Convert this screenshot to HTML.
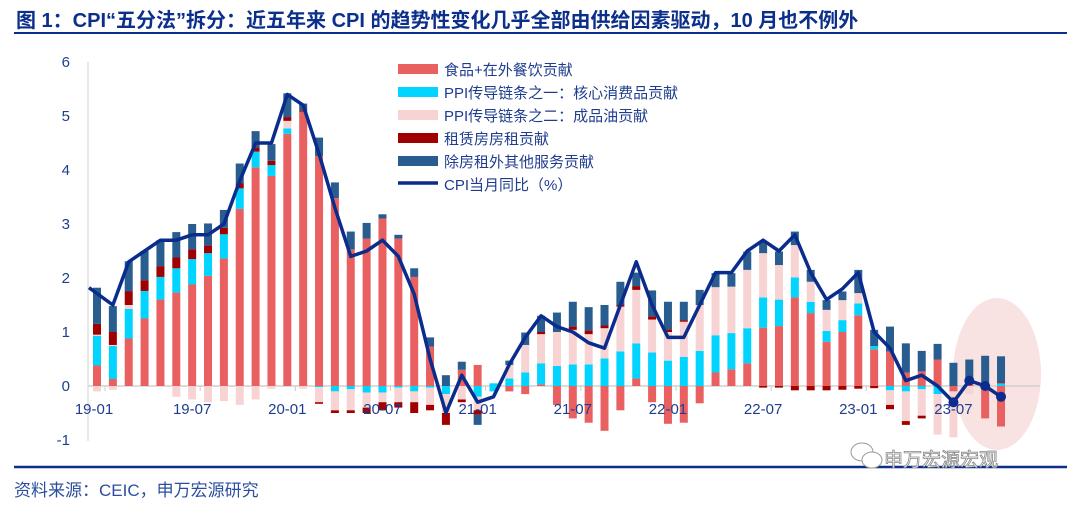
<!DOCTYPE html>
<html><head><meta charset="utf-8"><style>
body{margin:0;width:1080px;height:505px;background:#fff;overflow:hidden;font-family:"Liberation Sans","Noto Sans CJK SC",sans-serif;}
</style></head><body>
<svg id="s" width="1080" height="505" xmlns="http://www.w3.org/2000/svg" style="position:absolute;left:0;top:0">
<text x="16" y="27" font-size="20" font-weight="bold" fill="#0b2f8a" font-family="Liberation Sans,Noto Sans CJK SC,sans-serif">图 1：CPI“五分法”拆分：近五年来 CPI 的趋势性变化几乎全部由供给因素驱动，10 月也不例外</text>
<line x1="14" y1="33" x2="1067" y2="33" stroke="#0b2f8a" stroke-width="2"/>
<line x1="14" y1="467" x2="1067" y2="467" stroke="#0b2f8a" stroke-width="2.5"/>
<text x="14" y="496" font-size="17" fill="#2b4f9e" font-family="Liberation Sans,Noto Sans CJK SC,sans-serif">资料来源：CEIC，申万宏源研究</text>
<ellipse cx="997" cy="374" rx="44" ry="76" fill="#f5d6d6" opacity="0.7"/>
<line x1="88" y1="62" x2="88" y2="441" stroke="#d0d0d0" stroke-width="1"/>
<g id="g"></g>
<g font-size="15" fill="#1f3d8f" text-anchor="end" font-family="Liberation Sans,sans-serif">
<text x="70" y="67">6</text><text x="70" y="121">5</text><text x="70" y="175">4</text><text x="70" y="229">3</text><text x="70" y="283">2</text><text x="70" y="337">1</text><text x="70" y="391">0</text><text x="70" y="445">-1</text>
</g>
<g font-size="15" font-family="Liberation Sans,Noto Sans CJK SC,sans-serif" fill="#1f3d8f">
<rect x="398" y="64" width="40" height="10" fill="#e86060"/><text x="444" y="75">食品+在外餐饮贡献</text>
<rect x="398" y="87" width="40" height="10" fill="#00d4ff"/><text x="444" y="98">PPI传导链条之一：核心消费品贡献</text>
<rect x="398" y="110" width="40" height="10" fill="#f8d3d3"/><text x="444" y="121">PPI传导链条之二：成品油贡献</text>
<rect x="398" y="133" width="40" height="10" fill="#a00000"/><text x="444" y="144">租赁房房租贡献</text>
<rect x="398" y="156" width="40" height="10" fill="#2a5d8f"/><text x="444" y="167">除房租外其他服务贡献</text>
<line x1="398" y1="183" x2="438" y2="183" stroke="#0a2c8c" stroke-width="3.5"/><text x="444" y="190">CPI当月同比（%）</text>
</g>
<g font-size="19" fill="#fff" stroke="#888" stroke-width="0.8" font-family="Noto Sans CJK SC,sans-serif">
<text x="884" y="466">申万宏源宏观</text>
</g>
<g fill="#fff" stroke="#999" stroke-width="1"><ellipse cx="862" cy="452" rx="11" ry="9"/><ellipse cx="872" cy="460" rx="10" ry="8"/></g>
</svg>
<script>
var P=[[0.38,0.93,0.95,1.15,1.82],[0.13,0.74,0.76,1.0,1.48],[0.88,1.43,1.5,1.75,2.31],[1.25,1.76,1.76,1.96,2.5],[1.6,2.02,2.02,2.22,2.7],[1.73,2.18,2.18,2.38,2.85],[1.88,2.35,2.35,2.53,3.0],[2.04,2.46,2.46,2.6,3.01],[2.36,2.81,2.81,2.93,3.26],[3.28,3.66,3.66,3.75,4.12],[4.05,4.34,4.34,4.42,4.72],[3.89,4.09,4.09,4.17,4.48],
[4.67,4.77,4.91,4.98,5.42],[5.08,5.08,5.08,5.1,5.23],[4.26,4.26,4.26,4.26,4.6],[3.48,3.48,3.48,3.48,3.77],[2.53,2.53,2.53,2.53,2.86],[2.73,2.73,2.73,2.73,3.02],[3.1,3.1,3.1,3.1,3.18],[2.73,2.73,2.73,2.73,2.8],[2.02,2.02,2.02,2.02,2.18],[0.73,0.73,0.73,0.73,0.9],[0,0,0,0,0.2],[0.3,0.3,0.3,0.3,0.45],
[0.39,0.39,0.39,0.39,0.39],[0,0.05,0.05,0.05,0.05],[0,0.14,0.39,0.39,0.47],[0,0.25,0.76,0.76,0.99],[0.03,0.42,0.96,1.0,1.3],[0,0.37,1.0,1.0,1.36],[0,0.4,1.04,1.1,1.56],[0,0.4,0.96,1.03,1.46],[0,0.51,1.07,1.12,1.5],[0,0.64,1.47,1.5,1.93],[0.14,0.79,1.78,1.85,2.1],[0,0.62,1.23,1.29,1.77],
[0,0.47,1.0,1.05,1.56],[0,0.54,1.19,1.22,1.56],[0,0.65,1.5,1.5,1.78],[0.25,0.94,1.83,1.83,2.09],[0.31,0.98,1.84,1.84,2.09],[0.42,1.07,2.15,2.15,2.49],[1.08,1.64,2.46,2.46,2.67],[1.11,1.6,2.24,2.24,2.49],[1.64,2.01,2.61,2.61,2.86],[1.35,1.56,1.93,1.93,2.15],[0.82,1.02,1.41,1.41,1.59],[1.0,1.22,1.59,1.59,1.75],
[1.31,1.53,1.72,1.72,2.15],[0.68,0.74,0.74,0.74,1.04],[0.64,0.64,0.64,0.64,1.1],[0.25,0.25,0.25,0.25,0.79],[0.27,0.27,0.27,0.27,0.65],[0.49,0.49,0.49,0.49,0.78],[0,0,0,0,0.43],[0.15,0.15,0.15,0.15,0.49],[0,0,0,0,0.56],[0,0.05,0.05,0.07,0.55]];
var N=[[0,0,-0.1],[0,0,-0.07],[0],[0],[0,0,-0.02],[0,0,-0.2],[0,0,-0.25],[0,0,-0.3],[0,0,-0.28],[0,0,-0.35],[0,0,-0.25],[0,0,-0.05],
[0],[0,0,-0.05],[0,-0.02,-0.3,-0.33],[0,-0.1,-0.45,-0.5],[0,-0.06,-0.45,-0.5],[0,-0.12,-0.4,-0.5],[0,-0.12,-0.3,-0.45],[0,-0.03,-0.3,-0.4],[0,-0.1,-0.3,-0.5],[0,-0.03,-0.35,-0.45],[0,-0.15,-0.5,-0.72],[0,0,-0.25,-0.3],
[0,-0.2,-0.45,-0.53,-0.72],[0,-0.1],[-0.1],[-0.15],[0],[-0.35],[-0.6],[-0.68],[-0.83],[-0.45],[0],[-0.3],
[-0.7],[-0.68],[-0.32],[0],[0],[0],[0,0,0,-0.03],[0,0,0,-0.03],[0,0,0,-0.08],[0,0,0,-0.08],[0,0,0,-0.08],[0,0,0,-0.07],
[0,0,0,-0.05],[0,0,0,-0.04],[0,-0.08,-0.35,-0.43],[0,-0.1,-0.65,-0.72],[0,-0.06,-0.55,-0.6],[0,-0.15,-0.9,-0.9],[-0.1,-0.1,-0.95],[0,0,-0.15],[-0.6],[-0.75]];
var C=[1.7,1.5,2.3,2.5,2.7,2.7,2.8,2.8,3.0,3.8,4.5,4.5,5.4,5.2,4.3,3.3,2.4,2.5,2.7,2.4,1.7,0.5,-0.5,0.2,-0.3,-0.2,0.4,0.9,1.3,1.1,1.0,0.8,0.7,1.5,2.3,1.5,0.9,0.9,1.5,2.1,2.1,2.5,2.7,2.5,2.8,2.1,1.6,1.8,2.1,1.0,0.7,0.1,0.2,0.0,-0.3,0.1,0.0,-0.2];
var col=["#e86060","#00d4ff","#f8d3d3","#a00000","#2a5d8f"];
function X(i){return 97+15.86*i;} function Y(v){return 386-54*v;}
var h='';
h+='<line x1="88" y1="386" x2="1040" y2="386" stroke="#d0d0d0" stroke-width="1.5"/>';
for(var i=0;i<58;i++){
 if(i%6==0){h+='<line x1="'+(X(i)+8)+'" y1="386" x2="'+(X(i)+8)+'" y2="391" stroke="#ccc"/>';}
 var p=P[i],prev=0;
 for(var k=0;k<5;k++){var v=p[k];if(v>prev){h+='<rect x="'+(X(i)-4)+'" y="'+Y(v)+'" width="8" height="'+(54*(v-prev))+'" fill="'+col[k]+'"/>';prev=v;}}
 var n=N[i];prev=0;
 for(var k=0;k<n.length;k++){var v=n[k];if(v<prev){h+='<rect x="'+(X(i)-4)+'" y="'+Y(prev)+'" width="8" height="'+(54*(prev-v))+'" fill="'+col[k]+'"/>';prev=v;}}
}
var labs=["19-01","19-07","20-01","20-07","21-01","21-07","22-01","22-07","23-01","23-07"];
for(var j=0;j<labs.length;j++){h+='<text x="'+(j==0?94:X(j*6))+'" y="414" font-size="15" fill="#1f3d8f" text-anchor="middle" font-family="Liberation Sans,sans-serif">'+labs[j]+'</text>';}
var pts='89,'+Y(1.82)+' '+C.map(function(v,i){return X(i)+','+Y(v);}).slice(1).join(' ');
h+='<polyline points="'+pts+'" fill="none" stroke="#0a2c8c" stroke-width="3.5" stroke-linejoin="round"/>';
for(var i=54;i<58;i++){h+='<circle cx="'+X(i)+'" cy="'+Y(C[i])+'" r="5" fill="#0a2c8c"/>';}
document.getElementById('g').innerHTML=h;
</script>
</body></html>
